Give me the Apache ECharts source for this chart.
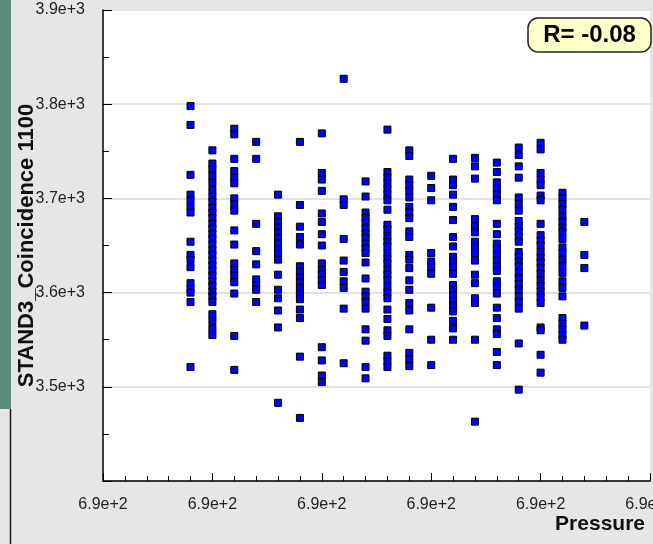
<!DOCTYPE html>
<html>
<head>
<meta charset="utf-8">
<script src="https://cdn.jsdelivr.net/npm/echarts@6/dist/echarts.min.js"></script>
<style>
html,body{margin:0;padding:0;background:#e6e6e6;}
#chart{width:653px;height:544px;}
</style>
</head>
<body>
<div id="chart"></div>
<script>
// Pressure of each measurement group (x)
const pressures = [689.68, 689.70, 689.72, 689.74, 689.76, 689.78, 689.80, 689.82, 689.84, 689.86,
                   689.88, 689.90, 689.92, 689.94, 689.96, 689.98, 690.00, 690.02, 690.04];
// STAND3_Coincidence 1100 values for each pressure group (y)
const col01 = [3798, 3778, 3725, 3704, 3698, 3691, 3685, 3654, 3640, 3635, 3627, 3610, 3604, 3600, 3590, 3521];
const col02 = [3751, 3737, 3731, 3724, 3717, 3709, 3702, 3696, 3690, 3685, 3679, 3673, 3668, 3662, 3657, 3651, 3645, 3640, 3634, 3629, 3623, 3618, 3612, 3607, 3601, 3596, 3590, 3577, 3570, 3562, 3555];
const col03 = [3774, 3768, 3742, 3729, 3722, 3716, 3700, 3694, 3687, 3666, 3651, 3631, 3624, 3618, 3611, 3599, 3554, 3518];
const col04 = [3760, 3742, 3673, 3644, 3630, 3614, 3608, 3603, 3590];
const col05 = [3704, 3681, 3675, 3669, 3664, 3658, 3652, 3646, 3640, 3635, 3619, 3603, 3594, 3581, 3563, 3483];
const col06 = [3760, 3693, 3670, 3659, 3651, 3628, 3622, 3616, 3611, 3605, 3599, 3593, 3582, 3573, 3532, 3467];
const col07 = [3769, 3727, 3720, 3708, 3684, 3675, 3662, 3650, 3631, 3624, 3619, 3613, 3608, 3542, 3528, 3512, 3505];
const col08 = [3827, 3699, 3693, 3657, 3634, 3622, 3612, 3605, 3583, 3525];
const col09 = [3718, 3702, 3685, 3679, 3674, 3668, 3663, 3658, 3652, 3647, 3642, 3632, 3615, 3601, 3596, 3590, 3583, 3561, 3549, 3521, 3509];
const col10 = [3773, 3728, 3722, 3716, 3710, 3704, 3698, 3688, 3672, 3667, 3660, 3654, 3649, 3642, 3636, 3631, 3624, 3619, 3613, 3606, 3600, 3594, 3582, 3572, 3560, 3554, 3533, 3527, 3521];
const col11 = [3751, 3745, 3720, 3714, 3708, 3701, 3691, 3685, 3679, 3665, 3659, 3640, 3635, 3626, 3613, 3603, 3589, 3581, 3561, 3536, 3529, 3522];
const col12 = [3724, 3711, 3698, 3642, 3633, 3627, 3620, 3584, 3550, 3523];
const col13 = [3742, 3720, 3714, 3704, 3691, 3677, 3659, 3649, 3638, 3633, 3627, 3620, 3608, 3603, 3597, 3591, 3586, 3580, 3570, 3562, 3550];
const col14 = [3743, 3734, 3721, 3678, 3670, 3664, 3654, 3648, 3642, 3634, 3619, 3610, 3594, 3589, 3550, 3463];
const col15 = [3738, 3728, 3717, 3710, 3704, 3698, 3673, 3662, 3652, 3646, 3640, 3634, 3628, 3623, 3612, 3606, 3599, 3584, 3573, 3561, 3556, 3537, 3523];
const col16 = [3754, 3746, 3734, 3722, 3701, 3694, 3687, 3676, 3670, 3665, 3659, 3654, 3643, 3638, 3633, 3628, 3621, 3615, 3609, 3603, 3596, 3590, 3583, 3546, 3497];
const col17 = [3759, 3752, 3727, 3720, 3714, 3703, 3698, 3673, 3661, 3655, 3650, 3643, 3637, 3632, 3626, 3620, 3613, 3607, 3601, 3595, 3589, 3563, 3560, 3534, 3515];
const col18 = [3706, 3700, 3694, 3688, 3681, 3675, 3669, 3664, 3657, 3648, 3642, 3635, 3628, 3621, 3612, 3605, 3596, 3573, 3567, 3561, 3555, 3550];
const col19 = [3675, 3640, 3626, 3565];
const groups = [col01, col02, col03, col04, col05, col06, col07, col08, col09, col10,
                col11, col12, col13, col14, col15, col16, col17, col18, col19];
const rLabel = 'R= -0.08';
const xName = 'Pressure';
const yName = 'STAND3_Coincidence 1100';

const points = [];
groups.forEach((g, i) => g.forEach(v => points.push([pressures[i], v])));

const fmt = v => Number(v).toExponential(1);
const FONT = '"Liberation Sans", Arial, sans-serif';

const chart = echarts.init(document.getElementById('chart'), null, {renderer: 'canvas'});
chart.setOption({
  animation: false,
  backgroundColor: '#e6e6e6',
  grid: {left: 103, top: 10, right: 3, bottom: 63, show: true, backgroundColor: '#ffffff', borderWidth: 0, outerBoundsMode: 'none'},
  xAxis: {
    type: 'value', min: 689.6, max: 690.1, interval: 0.1,
    name: xName, nameLocation: 'end', nameGap: -5, nameMoveOverlap: false,
    nameTextStyle: {fontFamily: FONT, fontWeight: 'bold', fontSize: 21, color: '#111', align: 'right', verticalAlign: 'top', padding: [33, 0, 0, 0]},
    axisLine: {show: true, onZero: false, lineStyle: {color: '#000', width: 1.5}},
    axisTick: {show: true, inside: true, length: 8, lineStyle: {color: '#000', width: 1}},
    minorTick: {show: true, splitNumber: 5, length: 5, lineStyle: {color: '#000', width: 1}},
    splitLine: {show: false},
    axisLabel: {formatter: fmt, fontFamily: FONT, fontSize: 16, color: '#222', margin: 16, showMaxLabel: true, showMinLabel: true}
  },
  yAxis: {
    type: 'value', min: 3400, max: 3900, interval: 100,
    name: yName, nameLocation: 'middle', nameGap: 65, nameMoveOverlap: false,
    nameTextStyle: {fontFamily: FONT, fontWeight: 'bold', fontSize: 22, color: '#111'},
    axisLine: {show: true, onZero: false, lineStyle: {color: '#000', width: 1.5}},
    axisTick: {show: true, inside: true, length: 9, lineStyle: {color: '#000', width: 1}},
    minorTick: {show: true, splitNumber: 2, length: 6, lineStyle: {color: '#000', width: 1}},
    splitLine: {show: true, lineStyle: {color: '#e2e2e2', width: 2}},
    axisLabel: {formatter: v => (v === 3400 ? '' : fmt(v)), fontFamily: FONT, fontSize: 16, color: '#222', margin: 18}
  },
  series: [{
    type: 'scatter',
    data: points,
    symbol: 'rect',
    symbolSize: 7,
    itemStyle: {color: '#0000ff', borderColor: '#000', borderWidth: 1, opacity: 1}
  }],
  graphic: [
    {type: 'rect', shape: {x: 0, y: 0, width: 11, height: 409}, style: {fill: '#5f8a7e'}, z: 100},
    {type: 'line', shape: {x1: 10.5, y1: 409, x2: 10.5, y2: 544}, style: {stroke: '#1a1a1a', lineWidth: 1.5}, z: 100},
    {type: 'rect', shape: {x: 528, y: 18, width: 123, height: 34, r: 10}, style: {fill: '#ffffc8', stroke: '#222', lineWidth: 1.5}, z: 100},
    {type: 'text', x: 589.5, y: 35, style: {text: rLabel, fontFamily: FONT, fontWeight: 'bold', fontSize: 24, fill: '#000', align: 'center', verticalAlign: 'middle'}, z: 101}
  ]
});
</script>
</body>
</html>
